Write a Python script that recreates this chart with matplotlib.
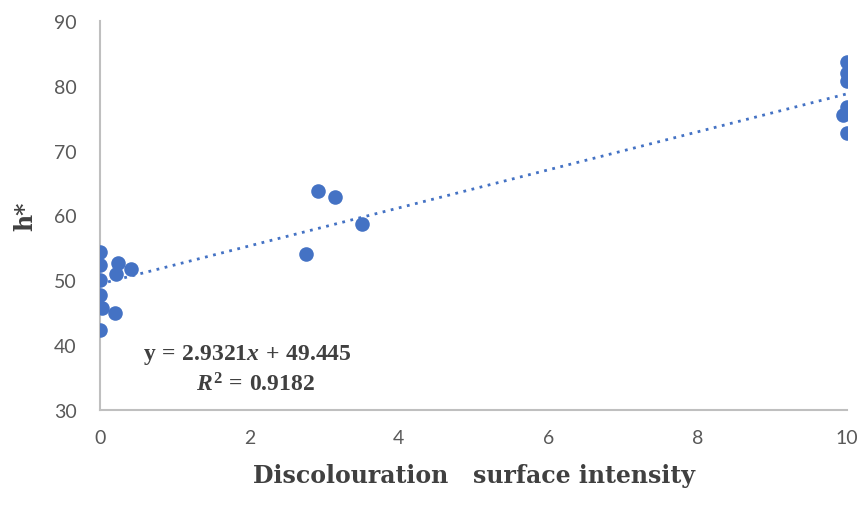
import numpy as np
import matplotlib.pyplot as plt

# discolouration surface intensity vs h*
intensity = [0, 0, 0, 0, 0.03, 0.2, 0, 0.24, 0.22, 0.41,
             2.76, 2.92, 3.15, 3.51,
             10, 10, 10, 10, 9.95, 10]
hue = [54.3, 52.4, 50.1, 47.8, 45.7, 45.0, 42.3, 52.7, 50.9, 51.8,
       54.0, 63.8, 62.8, 58.7,
       83.7, 81.9, 80.7, 76.8, 75.5, 72.7]

slope, intercept = 2.9321, 49.445
x_ticks = [0, 2, 4, 6, 8, 10]
y_ticks = [30, 40, 50, 60, 70, 80, 90]

blue = '#4472C4'
grey_txt = '#595959'
serif = 'DejaVu Serif'

plt.rcParams['mathtext.fontset'] = 'custom'
plt.rcParams['mathtext.rm'] = 'Liberation Serif:bold'
plt.rcParams['mathtext.it'] = 'Liberation Serif:italic:bold'
plt.rcParams['mathtext.bf'] = 'Liberation Serif:bold'

fig = plt.figure(figsize=(8.63, 5.10), dpi=100)
ax = fig.add_axes([0.1159, 0.1941, 0.8656, 0.7628])

ax.scatter(intensity, hue, s=110, color=blue, zorder=3, linewidths=0)
xl = np.array([0, 10])
ax.plot(xl, slope * xl + intercept, linestyle=(0, (1, 2)), color=blue, lw=2, zorder=2)

ax.set_xlim(0, 10)
ax.set_ylim(30, 90)
ax.set_xticks(x_ticks)
ax.set_yticks(y_ticks)
ax.tick_params(length=0, labelsize=14, labelcolor=grey_txt)
ax.tick_params(axis='y', pad=17)
ax.tick_params(axis='x', pad=14)
for lab in ax.get_xticklabels() + ax.get_yticklabels():
    lab.set_family('Lato')
for s in ['top', 'right']:
    ax.spines[s].set_visible(False)
for s in ['left', 'bottom']:
    ax.spines[s].set_color('#BFBFBF')
    ax.spines[s].set_linewidth(1.5)
    ax.spines[s].set_clip_on(False)

ax.set_ylabel('h*', fontsize=17, fontweight='bold', family=serif, color='#404040', labelpad=12)
ax.set_xlabel('Discolouration   surface intensity', fontsize=17, fontweight='bold',
              family=serif, color='#404040', labelpad=12)

ax.text(0.057, 0.145, r'$\mathrm{y\,=\,2.9321}\mathit{x}\mathrm{\,+\,49.445}$', transform=ax.transAxes,
        fontsize=17, color='#404040', va='center')
ax.text(0.128, 0.068, r'$\mathit{R}^{\mathrm{2}}\mathrm{\,=\,0.9182}$', transform=ax.transAxes,
        fontsize=17, color='#404040', va='center')

plt.savefig('out.png', dpi=100)
